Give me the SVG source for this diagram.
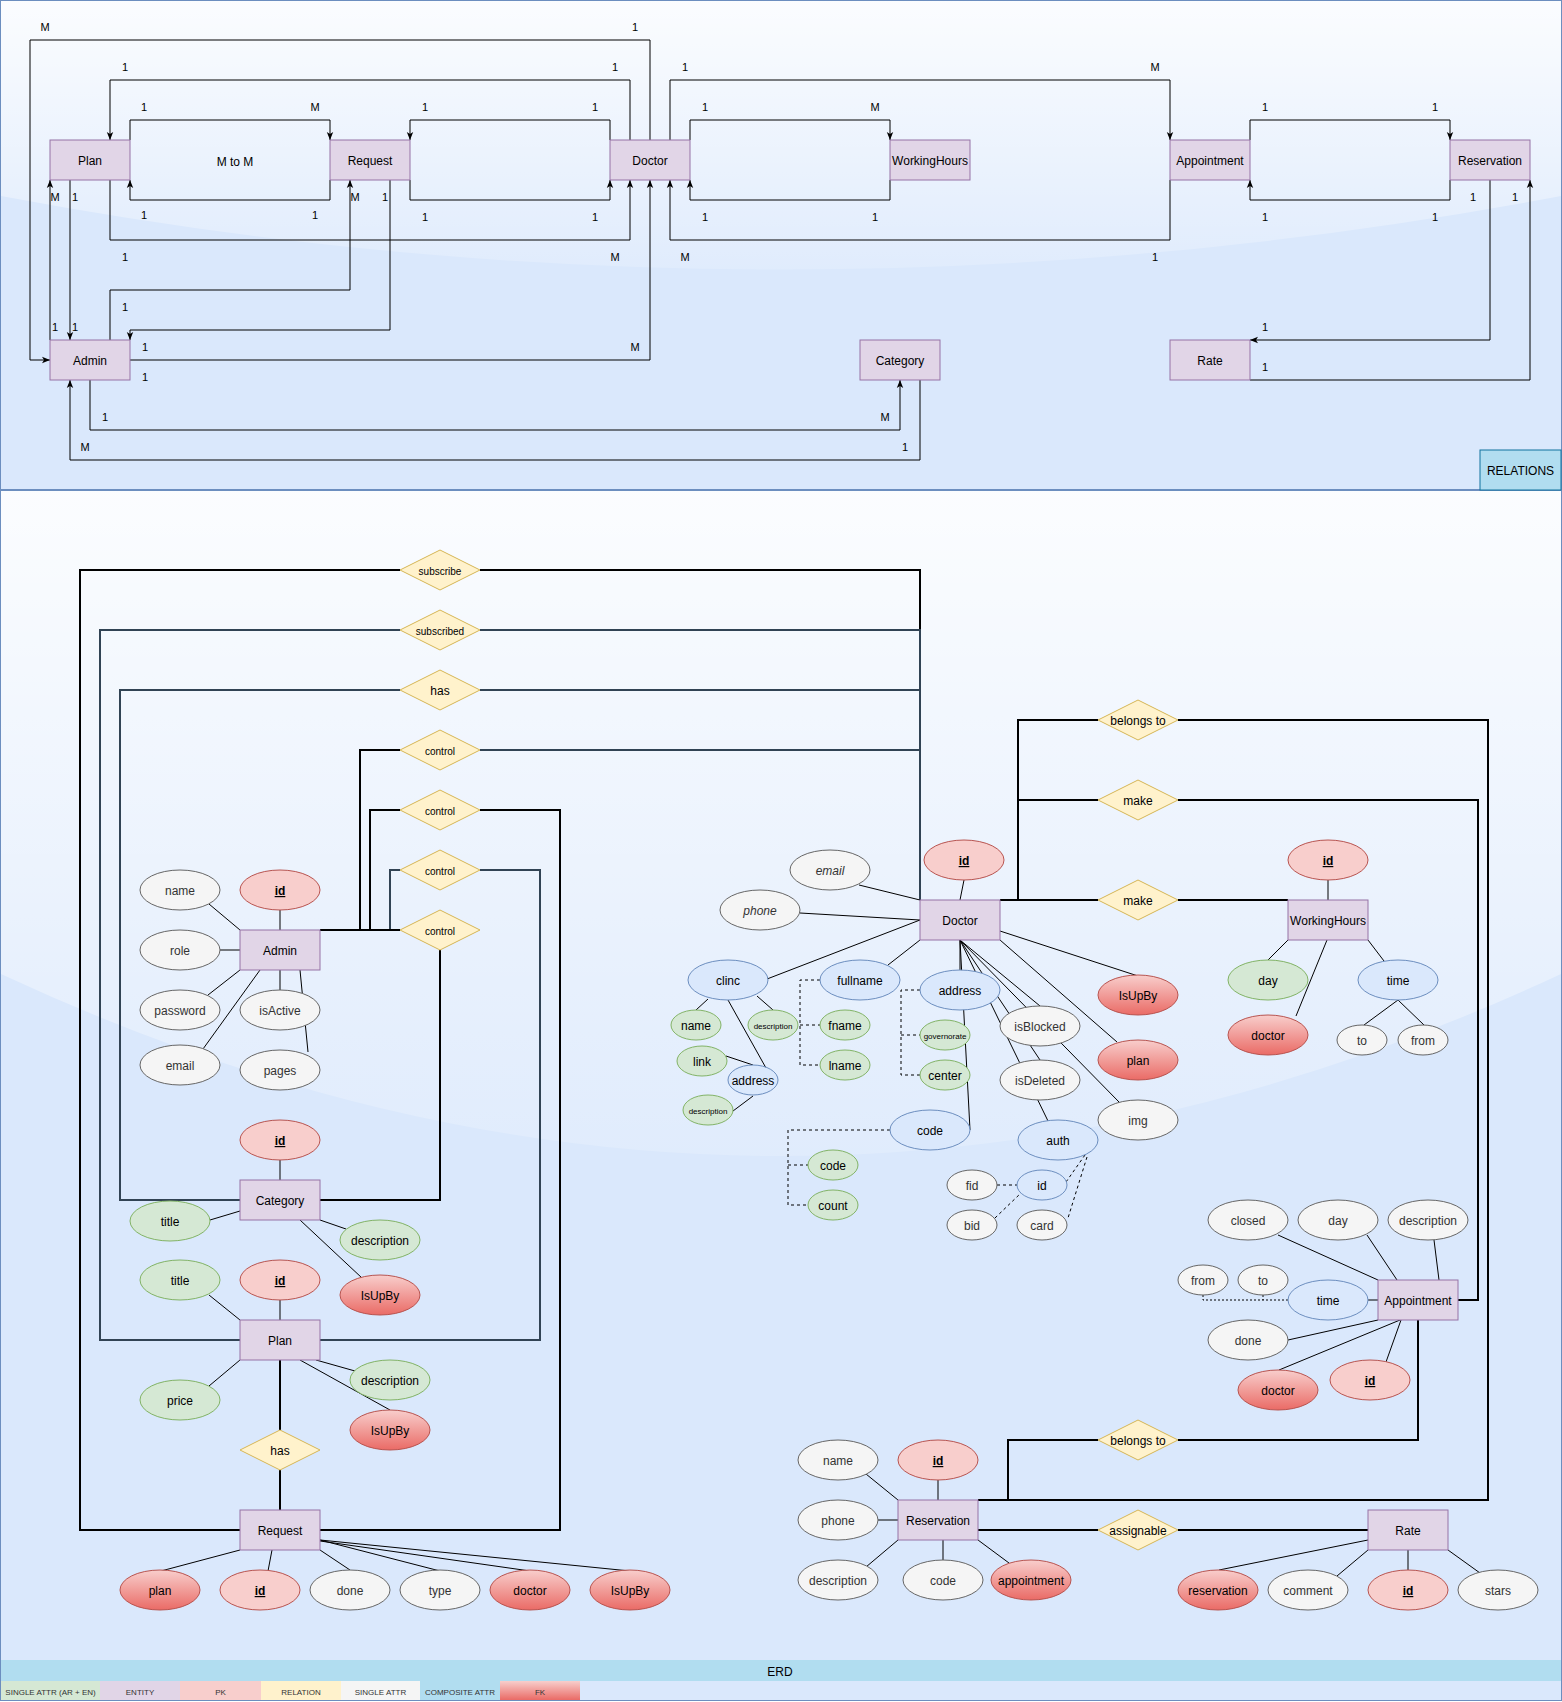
<svg xmlns="http://www.w3.org/2000/svg" width="1562" height="1702" viewBox="0 0 1562 1702">
<defs>
<style>
text{font-family:"Liberation Sans",Arial,Helvetica,sans-serif;font-size:12px;text-anchor:middle;fill:#000;transform:translate(0px,1px)}
.ent{fill:#e1d5e7;stroke:#9673a6;stroke-width:1}
.rel{fill:#fff2cc;stroke:#d6b656;stroke-width:1}
.pk{fill:#f8cecc;stroke:#b85450;stroke-width:1}
.fk{fill:url(#fkg);stroke:#b85450;stroke-width:1}
.grn{fill:#d5e8d4;stroke:#82b366;stroke-width:1}
.wht{fill:#f5f5f5;stroke:#666666;stroke-width:1}
.cmp{fill:#dae8fc;stroke:#6c8ebf;stroke-width:1}
.wt{fill:#333333}
.pkt{font-weight:bold;text-decoration:underline}
.it{font-style:italic;fill:#333333}
.s10{font-size:10px}
.s8{font-size:8px}
.lbl{font-size:11px}
.e{fill:none;stroke:#000;stroke-width:1;marker-end:url(#arr)}
.a{fill:none;stroke:#000;stroke-width:1}
.k{fill:none;stroke:#000;stroke-width:2}
.sl{fill:none;stroke:#314354;stroke-width:2}
.d{fill:none;stroke:#000;stroke-width:1;stroke-dasharray:3 3}
.dt{fill:none;stroke:#000;stroke-width:1;stroke-dasharray:2 2}
.lg{font-size:8px;fill:#333333}
</style>
<linearGradient id="fkg" x1="0" y1="0" x2="0" y2="1">
<stop offset="0" stop-color="#f8cecc"/>
<stop offset="1" stop-color="#ea6b66"/>
</linearGradient>
<linearGradient id="glassTop" gradientUnits="userSpaceOnUse" x1="0" y1="0" x2="0" y2="294">
<stop offset="0" stop-color="#ffffff" stop-opacity="0.9"/>
<stop offset="1" stop-color="#ffffff" stop-opacity="0.1"/>
</linearGradient>
<linearGradient id="glassErd" gradientUnits="userSpaceOnUse" x1="0" y1="490" x2="0" y2="1217">
<stop offset="0" stop-color="#ffffff" stop-opacity="0.9"/>
<stop offset="1" stop-color="#ffffff" stop-opacity="0.1"/>
</linearGradient>
<marker id="arr" viewBox="0 0 10 10" refX="10" refY="5" markerWidth="8" markerHeight="8" markerUnits="userSpaceOnUse" orient="auto">
<path d="M0,1 L10,5 L0,9 L2.5,5 Z" fill="#000"/>
</marker>
</defs>

<!-- Panels -->
<g id="panel-relations">
<rect x="0.5" y="0.5" width="1561" height="489" fill="#dae8fc" stroke="#6c8ebf"/>
<path d="M1,1 L1,196 Q781,343 1561,196 L1561,1 Z" fill="url(#glassTop)"/>
</g>
<g id="panel-erd">
<rect x="0.5" y="490.5" width="1561" height="1210" fill="#dae8fc" stroke="#6c8ebf"/>
<path d="M1,491 L1,974 Q781,1338 1561,974 L1561,491 Z" fill="url(#glassErd)"/>
</g>

<!-- ============ RELATIONS (top) ============ -->
<g id="connectors-relations">
<path class="e" d="M650,140 V40 H30 V360 H50"/>
<path class="e" d="M630,140 V80 H110 V140"/>
<path class="e" d="M130,140 V120 H330 V140"/>
<path class="e" d="M330,180 V200 H130 V180"/>
<path class="e" d="M610,140 V120 H410 V140"/>
<path class="e" d="M410,180 V200 H610 V180"/>
<path class="e" d="M110,180 V240 H630 V180"/>
<path class="e" d="M50,340 V180"/>
<path class="e" d="M70,180 V340"/>
<path class="e" d="M110,340 V290 H350 V180"/>
<path class="e" d="M390,180 V330 H130 V340"/>
<path class="e" d="M130,360 H650 V180"/>
<path class="e" d="M90,380 V430 H900 V380"/>
<path class="e" d="M920,380 V460 H70 V380"/>
<path class="e" d="M670,140 V80 H1170 V140"/>
<path class="e" d="M690,140 V120 H890 V140"/>
<path class="e" d="M890,180 V200 H690 V180"/>
<path class="e" d="M1170,180 V240 H670 V180"/>
<path class="e" d="M1250,140 V120 H1450 V140"/>
<path class="e" d="M1450,180 V200 H1250 V180"/>
<path class="e" d="M1490,180 V340 H1250"/>
<path class="e" d="M1250,380 H1530 V180"/>
<g id="edge-labels">
<text class="lbl" x="45" y="30">M</text><text class="lbl" x="635" y="30">1</text>
<text class="lbl" x="125" y="70">1</text><text class="lbl" x="615" y="70">1</text>
<text class="lbl" x="144" y="110">1</text><text class="lbl" x="315" y="110">M</text>
<text class="lbl" x="144" y="218">1</text><text class="lbl" x="315" y="218">1</text>
<text class="lbl" x="425" y="110">1</text><text class="lbl" x="595" y="110">1</text>
<text class="lbl" x="425" y="220">1</text><text class="lbl" x="595" y="220">1</text>
<text class="lbl" x="125" y="260">1</text><text class="lbl" x="615" y="260">M</text>
<text class="lbl" x="55" y="200">M</text><text class="lbl" x="55" y="330">1</text>
<text class="lbl" x="75" y="200">1</text><text class="lbl" x="75" y="330">1</text>
<text class="lbl" x="355" y="200">M</text><text class="lbl" x="125" y="310">1</text>
<text class="lbl" x="385" y="200">1</text><text class="lbl" x="145" y="350">1</text>
<text class="lbl" x="635" y="350">M</text><text class="lbl" x="145" y="380">1</text>
<text class="lbl" x="105" y="420">1</text><text class="lbl" x="885" y="420">M</text>
<text class="lbl" x="85" y="450">M</text><text class="lbl" x="905" y="450">1</text>
<text class="lbl" x="685" y="70">1</text><text class="lbl" x="1155" y="70">M</text>
<text class="lbl" x="705" y="110">1</text><text class="lbl" x="875" y="110">M</text>
<text class="lbl" x="705" y="220">1</text><text class="lbl" x="875" y="220">1</text>
<text class="lbl" x="685" y="260">M</text><text class="lbl" x="1155" y="260">1</text>
<text class="lbl" x="1265" y="110">1</text><text class="lbl" x="1435" y="110">1</text>
<text class="lbl" x="1265" y="220">1</text><text class="lbl" x="1435" y="220">1</text>
<text class="lbl" x="1473" y="200">1</text><text class="lbl" x="1265" y="330">1</text>
<text class="lbl" x="1515" y="200">1</text><text class="lbl" x="1265" y="370">1</text>
<text x="235" y="165">M to M</text>
</g>
</g>
<g id="r-plan"><rect class="ent" x="50" y="140" width="80" height="40"/><text x="90" y="164">Plan</text></g>
<g id="r-request"><rect class="ent" x="330" y="140" width="80" height="40"/><text x="370" y="164">Request</text></g>
<g id="r-doctor"><rect class="ent" x="610" y="140" width="80" height="40"/><text x="650" y="164">Doctor</text></g>
<g id="r-workinghours"><rect class="ent" x="890" y="140" width="80" height="40"/><text x="930" y="164">WorkingHours</text></g>
<g id="r-appointment"><rect class="ent" x="1170" y="140" width="80" height="40"/><text x="1210" y="164">Appointment</text></g>
<g id="r-reservation"><rect class="ent" x="1450" y="140" width="80" height="40"/><text x="1490" y="164">Reservation</text></g>
<g id="r-admin"><rect class="ent" x="50" y="340" width="80" height="40"/><text x="90" y="364">Admin</text></g>
<g id="r-category"><rect class="ent" x="860" y="340" width="80" height="40"/><text x="900" y="364">Category</text></g>
<g id="r-rate"><rect class="ent" x="1170" y="340" width="80" height="40"/><text x="1210" y="364">Rate</text></g>
<g id="relations-title"><rect x="1480" y="450" width="81" height="40" fill="#b1ddf0" stroke="#10739e"/><text x="1520.5" y="474">RELATIONS</text></g>

<!-- ============ ERD ============ -->
<g id="connectors-erd">
<path class="k" d="M400,570 H80 V1530 H240"/>
<path class="k" d="M480,570 H920 V900"/>
<path class="sl" d="M400,630 H100 V1340 H240"/>
<path class="sl" d="M480,630 H920 V900"/>
<path class="sl" d="M400,690 H120 V1200 H240"/>
<path class="sl" d="M480,690 H920 V900"/>
<path class="k" d="M320,930 H360 V750 H400"/>
<path class="sl" d="M480,750 H920"/>
<path class="k" d="M320,930 H370 V810 H400"/>
<path class="k" d="M480,810 H560 V1530 H320"/>
<path class="sl" d="M320,930 H390 V870 H400"/>
<path class="sl" d="M480,870 H540 V1340 H320"/>
<path class="k" d="M320,930 H400"/>
<path class="k" d="M440,950 V1200 H320"/>
<path class="k" d="M1098,720 H1018 V900 H1000"/>
<path class="k" d="M1178,720 H1488 V1500 H978"/>
<path class="k" d="M1098,800 H1018"/>
<path class="k" d="M1178,800 H1478 V1300 H1458"/>
<path class="k" d="M1098,900 H1000"/>
<path class="k" d="M1178,900 H1288"/>
<path class="k" d="M280,1360 V1430"/>
<path class="k" d="M280,1470 V1510"/>
<path class="k" d="M1178,1440 H1418 V1320"/>
<path class="k" d="M1098,1440 H1008 V1500 H978"/>
<path class="k" d="M1098,1530 H978"/>
<path class="k" d="M1178,1530 H1368"/>
<path class="a" d="M209,904 L240,930 M280,910 V930 M220,950 H240 M240,970 L208,995 M280,970 V990 M260,970 L203,1049 M300,970 L308,1052"/>
<path class="a" d="M280,1160 V1180 M210,1220 L240,1211 M346,1229 L320,1220 M362,1278 L300,1220"/>
<path class="a" d="M209,1295 L240,1320 M280,1300 V1320 M209,1386 L240,1360 M316,1360 L355,1371 M300,1360 L390,1410"/>
<path class="a" d="M161,1571 L240,1550 M268,1571 L272,1550 M350,1570 L320,1550 M440,1571 L320,1540 M530,1571 L320,1541 M630,1571 L320,1540"/>
<path class="a" d="M964,880 L960,900 M859,885 L920,900 M800,913 L920,920 M767,979 L920,920 M888,965 L920,940 M960,940 V970 M960,940 L970,1130 M960,940 L1040,1006 M960,940 L1040,1060 M960,940 L1048,1121 M960,940 L1119,1102 M1000,940 L1117,1042 M1000,931 L1138,976"/>
<path class="a" d="M708,999 L696,1010 M757,996 L773,1010 M728,1000 L766,1068 M726,1056 L753,1065 M753,1096 L733,1111"/>
<path class="d" d="M820,980 H800 V1065 H820 M800,1025 H820"/>
<path class="d" d="M920,990 H901 V1075 H920 M901,1035 H920"/>
<path class="d" d="M890,1130 H788 V1205 H808 M788,1165 H808"/>
<path class="d" d="M1085,1155 L1066,1182 M1087,1157 L1068,1218 M997,1185 H1017 M995,1218 L1021,1193"/>
<path class="a" d="M1328,880 V900 M1268,960 L1288,940 M1296,1016 L1327,940 M1384,961 L1368,940 M1398,1000 L1364,1025 M1398,1000 L1424,1025"/>
<path class="a" d="M1278,1235 L1378,1280 M1367,1235 L1397,1280 M1434,1240 L1439,1280 M1368,1300 H1378 M1288,1340 L1378,1320 M1279,1370 L1400,1320 M1386,1362 L1401,1320"/>
<path class="dt" d="M1203,1295 V1300 H1288 M1263,1295 V1300"/>
<path class="a" d="M866,1474 L898,1500 M938,1480 V1500 M878,1520 H898 M866,1567 L898,1540 M943,1560 V1540 M1009,1563 L978,1540"/>
<path class="a" d="M1219,1570 L1368,1540 M1337,1576 L1368,1550 M1408,1570 V1550 M1480,1573 L1448,1550"/>
</g>

<g id="rel-subscribe"><polygon class="rel" points="400,570 440,550 480,570 440,590"/><text class="s10" x="440" y="574">subscribe</text></g>
<g id="rel-subscribed"><polygon class="rel" points="400,630 440,610 480,630 440,650"/><text class="s10" x="440" y="634">subscribed</text></g>
<g id="rel-has-category"><polygon class="rel" points="400,690 440,670 480,690 440,710"/><text x="440" y="694">has</text></g>
<g id="rel-control-1"><polygon class="rel" points="400,750 440,730 480,750 440,770"/><text class="s10" x="440" y="754">control</text></g>
<g id="rel-control-2"><polygon class="rel" points="400,810 440,790 480,810 440,830"/><text class="s10" x="440" y="814">control</text></g>
<g id="rel-control-3"><polygon class="rel" points="400,870 440,850 480,870 440,890"/><text class="s10" x="440" y="874">control</text></g>
<g id="rel-control-4"><polygon class="rel" points="400,930 440,910 480,930 440,950"/><text class="s10" x="440" y="934">control</text></g>
<g id="rel-belongs-1"><polygon class="rel" points="1098,720 1138,700 1178,720 1138,740"/><text x="1138" y="724">belongs to</text></g>
<g id="rel-make-1"><polygon class="rel" points="1098,800 1138,780 1178,800 1138,820"/><text x="1138" y="804">make</text></g>
<g id="rel-make-2"><polygon class="rel" points="1098,900 1138,880 1178,900 1138,920"/><text x="1138" y="904">make</text></g>
<g id="rel-has-request"><polygon class="rel" points="240,1450 280,1430 320,1450 280,1470"/><text x="280" y="1454">has</text></g>
<g id="rel-belongs-2"><polygon class="rel" points="1098,1440 1138,1420 1178,1440 1138,1460"/><text x="1138" y="1444">belongs to</text></g>
<g id="rel-assignable"><polygon class="rel" points="1098,1530 1138,1510 1178,1530 1138,1550"/><text x="1138" y="1534">assignable</text></g>

<g id="admin">
<rect class="ent" x="240" y="930" width="80" height="40"/><text x="280" y="954">Admin</text>
<ellipse class="wht" cx="180" cy="890" rx="40" ry="20"/><text class="wt" x="180" y="894">name</text>
<ellipse class="pk" cx="280" cy="890" rx="40" ry="20"/><text class="pkt" x="280" y="894">id</text>
<ellipse class="wht" cx="180" cy="950" rx="40" ry="20"/><text class="wt" x="180" y="954">role</text>
<ellipse class="wht" cx="180" cy="1010" rx="40" ry="20"/><text class="wt" x="180" y="1014">password</text>
<ellipse class="wht" cx="280" cy="1010" rx="40" ry="20"/><text class="wt" x="280" y="1014">isActive</text>
<ellipse class="wht" cx="180" cy="1065" rx="40" ry="20"/><text class="wt" x="180" y="1069">email</text>
<ellipse class="wht" cx="280" cy="1070" rx="40" ry="20"/><text class="wt" x="280" y="1074">pages</text>
</g>

<g id="category">
<rect class="ent" x="240" y="1180" width="80" height="40"/><text x="280" y="1204">Category</text>
<ellipse class="pk" cx="280" cy="1140" rx="40" ry="20"/><text class="pkt" x="280" y="1144">id</text>
<ellipse class="grn" cx="170" cy="1221" rx="40" ry="20"/><text x="170" y="1225">title</text>
<ellipse class="grn" cx="380" cy="1240" rx="40" ry="20"/><text x="380" y="1244">description</text>
<ellipse class="fk" cx="380" cy="1295" rx="40" ry="20"/><text x="380" y="1299">IsUpBy</text>
</g>

<g id="plan">
<rect class="ent" x="240" y="1320" width="80" height="40"/><text x="280" y="1344">Plan</text>
<ellipse class="grn" cx="180" cy="1280" rx="40" ry="20"/><text x="180" y="1284">title</text>
<ellipse class="pk" cx="280" cy="1280" rx="40" ry="20"/><text class="pkt" x="280" y="1284">id</text>
<ellipse class="grn" cx="180" cy="1400" rx="40" ry="20"/><text x="180" y="1404">price</text>
<ellipse class="grn" cx="390" cy="1380" rx="40" ry="20"/><text x="390" y="1384">description</text>
<ellipse class="fk" cx="390" cy="1430" rx="40" ry="20"/><text x="390" y="1434">IsUpBy</text>
</g>

<g id="request">
<rect class="ent" x="240" y="1510" width="80" height="40"/><text x="280" y="1534">Request</text>
<ellipse class="fk" cx="160" cy="1590" rx="40" ry="20"/><text x="160" y="1594">plan</text>
<ellipse class="pk" cx="260" cy="1590" rx="40" ry="20"/><text class="pkt" x="260" y="1594">id</text>
<ellipse class="wht" cx="350" cy="1590" rx="40" ry="20"/><text class="wt" x="350" y="1594">done</text>
<ellipse class="wht" cx="440" cy="1590" rx="40" ry="20"/><text class="wt" x="440" y="1594">type</text>
<ellipse class="fk" cx="530" cy="1590" rx="40" ry="20"/><text x="530" y="1594">doctor</text>
<ellipse class="fk" cx="630" cy="1590" rx="40" ry="20"/><text x="630" y="1594">IsUpBy</text>
</g>

<g id="doctor">
<rect class="ent" x="920" y="900" width="80" height="40"/><text x="960" y="924">Doctor</text>
<ellipse class="pk" cx="964" cy="860" rx="40" ry="20"/><text class="pkt" x="964" y="864">id</text>
<ellipse class="wht" cx="830" cy="870" rx="40" ry="20"/><text class="it" x="830" y="874">email</text>
<ellipse class="wht" cx="760" cy="910" rx="40" ry="20"/><text class="it" x="760" y="914">phone</text>
<ellipse class="cmp" cx="728" cy="980" rx="40" ry="20"/><text x="728" y="984">clinc</text>
<ellipse class="cmp" cx="860" cy="980" rx="40" ry="20"/><text x="860" y="984">fullname</text>
<ellipse class="cmp" cx="960" cy="990" rx="40" ry="20"/><text x="960" y="994">address</text>
<ellipse class="wht" cx="1040" cy="1026" rx="40" ry="20"/><text class="wt" x="1040" y="1030">isBlocked</text>
<ellipse class="wht" cx="1040" cy="1080" rx="40" ry="20"/><text class="wt" x="1040" y="1084">isDeleted</text>
<ellipse class="fk" cx="1138" cy="995" rx="40" ry="20"/><text x="1138" y="999">IsUpBy</text>
<ellipse class="fk" cx="1138" cy="1060" rx="40" ry="20"/><text x="1138" y="1064">plan</text>
<ellipse class="wht" cx="1138" cy="1120" rx="40" ry="20"/><text class="wt" x="1138" y="1124">img</text>
<ellipse class="cmp" cx="1058" cy="1140" rx="40" ry="20"/><text x="1058" y="1144">auth</text>
<ellipse class="cmp" cx="930" cy="1130" rx="40" ry="20"/><text x="930" y="1134">code</text>
<ellipse class="grn" cx="696" cy="1025" rx="25" ry="15"/><text x="696" y="1029">name</text>
<ellipse class="grn" cx="773" cy="1025" rx="25" ry="15"/><text class="s8" x="773" y="1028">description</text>
<ellipse class="grn" cx="702" cy="1061" rx="25" ry="15"/><text x="702" y="1065">link</text>
<ellipse class="cmp" cx="753" cy="1080" rx="25" ry="15"/><text x="753" y="1084">address</text>
<ellipse class="grn" cx="708" cy="1110" rx="25" ry="15"/><text class="s8" x="708" y="1113">description</text>
<ellipse class="grn" cx="845" cy="1025" rx="25" ry="15"/><text x="845" y="1029">fname</text>
<ellipse class="grn" cx="845" cy="1065" rx="25" ry="15"/><text x="845" y="1069">lname</text>
<ellipse class="grn" cx="945" cy="1035" rx="25" ry="15"/><text class="s8" x="945" y="1038">governorate</text>
<ellipse class="grn" cx="945" cy="1075" rx="25" ry="15"/><text x="945" y="1079">center</text>
<ellipse class="grn" cx="833" cy="1165" rx="25" ry="15"/><text x="833" y="1169">code</text>
<ellipse class="grn" cx="833" cy="1205" rx="25" ry="15"/><text x="833" y="1209">count</text>
<ellipse class="wht" cx="972" cy="1185" rx="25" ry="15"/><text class="wt" x="972" y="1189">fid</text>
<ellipse class="cmp" cx="1042" cy="1185" rx="25" ry="15"/><text x="1042" y="1189">id</text>
<ellipse class="wht" cx="972" cy="1225" rx="25" ry="15"/><text class="wt" x="972" y="1229">bid</text>
<ellipse class="wht" cx="1042" cy="1225" rx="25" ry="15"/><text class="wt" x="1042" y="1229">card</text>
</g>

<g id="workinghours">
<rect class="ent" x="1288" y="900" width="80" height="40"/><text x="1328" y="924">WorkingHours</text>
<ellipse class="pk" cx="1328" cy="860" rx="40" ry="20"/><text class="pkt" x="1328" y="864">id</text>
<ellipse class="grn" cx="1268" cy="980" rx="40" ry="20"/><text x="1268" y="984">day</text>
<ellipse class="fk" cx="1268" cy="1035" rx="40" ry="20"/><text x="1268" y="1039">doctor</text>
<ellipse class="cmp" cx="1398" cy="980" rx="40" ry="20"/><text x="1398" y="984">time</text>
<ellipse class="wht" cx="1362" cy="1040" rx="25" ry="15"/><text class="wt" x="1362" y="1044">to</text>
<ellipse class="wht" cx="1423" cy="1040" rx="25" ry="15"/><text class="wt" x="1423" y="1044">from</text>
</g>

<g id="appointment">
<rect class="ent" x="1378" y="1280" width="80" height="40"/><text x="1418" y="1304">Appointment</text>
<ellipse class="wht" cx="1248" cy="1220" rx="40" ry="20"/><text class="wt" x="1248" y="1224">closed</text>
<ellipse class="wht" cx="1338" cy="1220" rx="40" ry="20"/><text class="wt" x="1338" y="1224">day</text>
<ellipse class="wht" cx="1428" cy="1220" rx="40" ry="20"/><text class="wt" x="1428" y="1224">description</text>
<ellipse class="wht" cx="1203" cy="1280" rx="25" ry="15"/><text class="wt" x="1203" y="1284">from</text>
<ellipse class="wht" cx="1263" cy="1280" rx="25" ry="15"/><text class="wt" x="1263" y="1284">to</text>
<ellipse class="cmp" cx="1328" cy="1300" rx="40" ry="20"/><text x="1328" y="1304">time</text>
<ellipse class="wht" cx="1248" cy="1340" rx="40" ry="20"/><text class="wt" x="1248" y="1344">done</text>
<ellipse class="fk" cx="1278" cy="1390" rx="40" ry="20"/><text x="1278" y="1394">doctor</text>
<ellipse class="pk" cx="1370" cy="1380" rx="40" ry="20"/><text class="pkt" x="1370" y="1384">id</text>
</g>

<g id="reservation">
<rect class="ent" x="898" y="1500" width="80" height="40"/><text x="938" y="1524">Reservation</text>
<ellipse class="wht" cx="838" cy="1460" rx="40" ry="20"/><text class="wt" x="838" y="1464">name</text>
<ellipse class="pk" cx="938" cy="1460" rx="40" ry="20"/><text class="pkt" x="938" y="1464">id</text>
<ellipse class="wht" cx="838" cy="1520" rx="40" ry="20"/><text class="wt" x="838" y="1524">phone</text>
<ellipse class="wht" cx="838" cy="1580" rx="40" ry="20"/><text class="wt" x="838" y="1584">description</text>
<ellipse class="wht" cx="943" cy="1580" rx="40" ry="20"/><text class="wt" x="943" y="1584">code</text>
<ellipse class="fk" cx="1031" cy="1580" rx="40" ry="20"/><text x="1031" y="1584">appointment</text>
</g>

<g id="rate">
<rect class="ent" x="1368" y="1510" width="80" height="40"/><text x="1408" y="1534">Rate</text>
<ellipse class="fk" cx="1218" cy="1590" rx="40" ry="20"/><text x="1218" y="1594">reservation</text>
<ellipse class="wht" cx="1308" cy="1590" rx="40" ry="20"/><text class="wt" x="1308" y="1594">comment</text>
<ellipse class="pk" cx="1408" cy="1590" rx="40" ry="20"/><text class="pkt" x="1408" y="1594">id</text>
<ellipse class="wht" cx="1498" cy="1590" rx="40" ry="20"/><text class="wt" x="1498" y="1594">stars</text>
</g>

<g id="erd-title"><rect x="1" y="1660" width="1560" height="21" fill="#b1ddf0"/><text x="780" y="1674.5">ERD</text></g>
<g id="legend">
<rect x="1" y="1681" width="99" height="19" fill="#d5e8d4"/><text class="lg" x="50.5" y="1693.5">SINGLE ATTR (AR + EN)</text>
<rect x="100" y="1681" width="80" height="19" fill="#e1d5e7"/><text class="lg" x="140" y="1693.5">ENTITY</text>
<rect x="180" y="1681" width="81" height="19" fill="#f8cecc"/><text class="lg" x="220.5" y="1693.5">PK</text>
<rect x="261" y="1681" width="80" height="19" fill="#fff2cc"/><text class="lg" x="301" y="1693.5">RELATION</text>
<rect x="341" y="1681" width="79" height="19" fill="#f5f5f5"/><text class="lg" x="380.5" y="1693.5">SINGLE ATTR</text>
<rect x="420" y="1681" width="80" height="19" fill="#b1ddf0"/><text class="lg" x="460" y="1693.5">COMPOSITE ATTR</text>
<rect x="500" y="1681" width="80" height="19" fill="url(#fkg)"/><text class="lg" x="540" y="1693.5">FK</text>
</g>
</svg>
